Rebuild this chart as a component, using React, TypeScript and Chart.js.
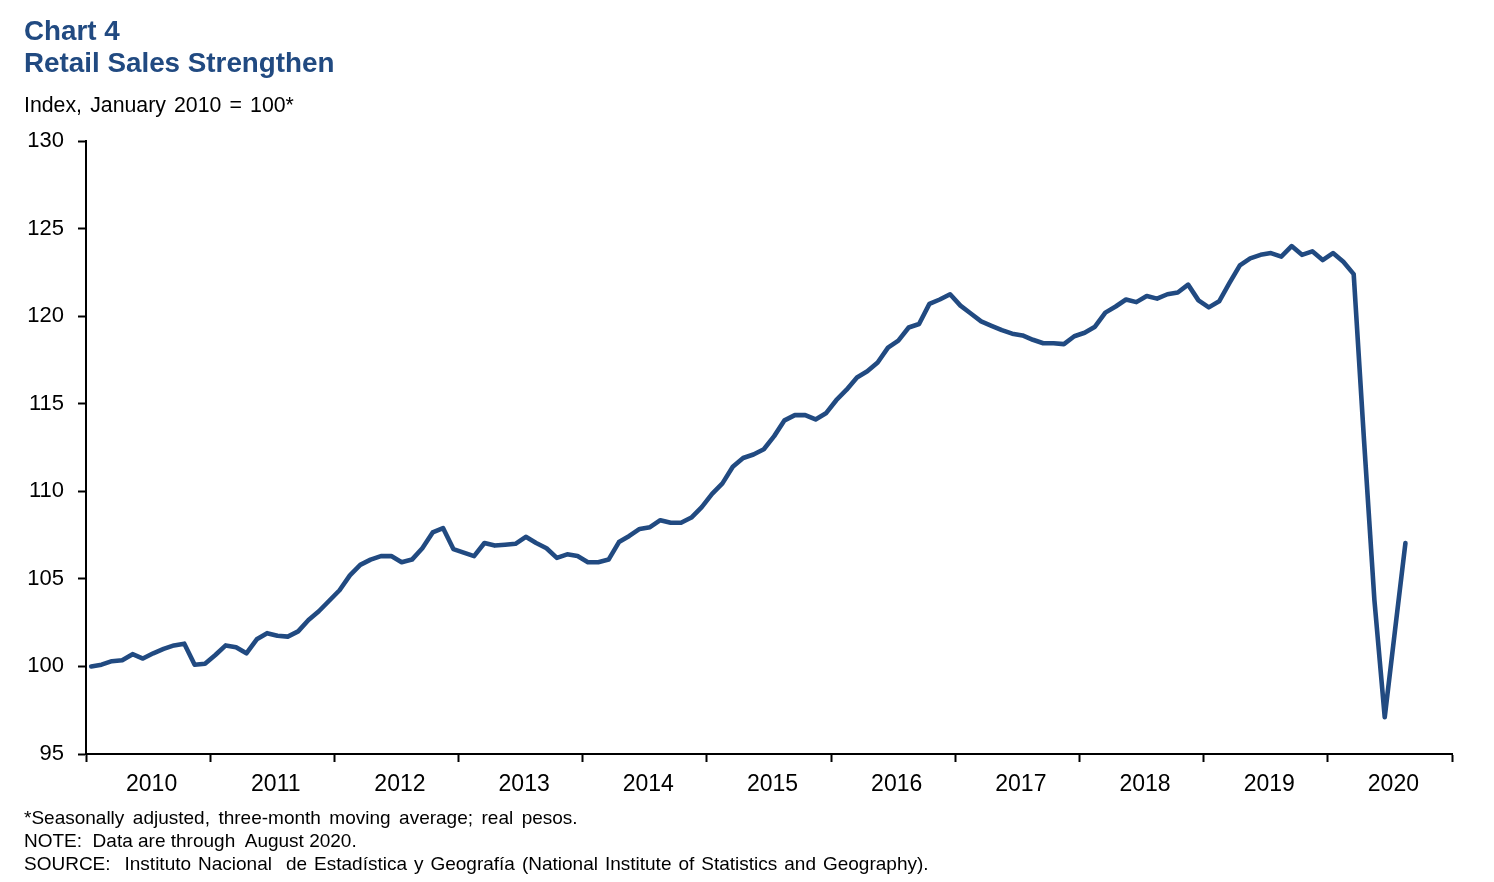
import React, { useEffect, useRef } from "react";
import { Chart, registerables } from "chart.js";

Chart.register(...registerables);

// Monthly index values, January 2010 – August 2020 (Jan 2010 = 100)
const retailIndex: number[] = [
  // 2010
  100.0, 100.1, 100.3, 100.35, 100.7, 100.45, 100.75, 101.0, 101.2, 101.3, 100.1, 100.15,
  // 2011
  100.65, 101.2, 101.1, 100.75, 101.55, 101.9, 101.75, 101.7, 102.0, 102.65, 103.15, 103.75,
  // 2012
  104.35, 105.2, 105.8, 106.1, 106.3, 106.3, 105.95, 106.1, 106.75, 107.65, 107.9, 106.7,
  // 2013
  106.5, 106.3, 107.05, 106.9, 106.95, 107.0, 107.4, 107.05, 106.75, 106.2, 106.4, 106.3,
  // 2014
  105.95, 105.95, 106.1, 107.1, 107.45, 107.85, 107.95, 108.35, 108.2, 108.2, 108.5, 109.1,
  // 2015
  109.85, 110.45, 111.4, 111.9, 112.1, 112.4, 113.15, 114.05, 114.35, 114.35, 114.1, 114.45,
  // 2016
  115.2, 115.8, 116.5, 116.85, 117.35, 118.2, 118.6, 119.35, 119.55, 120.7, 120.95, 121.25,
  // 2017
  120.6, 120.15, 119.7, 119.45, 119.2, 119.0, 118.9, 118.65, 118.45, 118.45, 118.4, 118.85,
  // 2018
  119.05, 119.4, 120.2, 120.55, 120.95, 120.8, 121.15, 121.0, 121.25, 121.35, 121.8, 120.9,
  // 2019
  120.5, 120.85, 121.9, 122.9, 123.3, 123.5, 123.6, 123.4, 124.0, 123.5, 123.7, 123.2,
  // 2020 (through August)
  123.6, 123.1, 122.4, 112.9, 103.8, 97.1, 102.1, 107.05,
];

const yearLabels: string[] = [
  "2010", "2011", "2012", "2013", "2014", "2015",
  "2016", "2017", "2018", "2019", "2020",
];

const yTicks: number[] = [95, 100, 105, 110, 115, 120, 125, 130];

const titleLine1 = "Chart 4";
const titleLine2 = "Retail Sales Strengthen";
const unitLabel = "Index, January 2010 = 100*";
const footnotes: string[] = [
  "*Seasonally adjusted, three-month moving average; real pesos.",
  "NOTE:  Data are through  August 2020.",
  "SOURCE:  Instituto Nacional  de Estadística y Geografía (National Institute of Statistics and Geography).",
];
const footnoteWordSpacing: number[] = [3.2, 0, 1.7];

const BLUE = "#214a81";
const FONT = "'Liberation Sans', Arial, Helvetica, sans-serif";

export default function App() {
  const canvasRef = useRef<HTMLCanvasElement | null>(null);

  useEffect(() => {
    const canvas = canvasRef.current;
    if (!canvas) return;
    const monthsPerYear = 12;
    const totalMonths = yearLabels.length * monthsPerYear;
    const points = retailIndex.map((v, i) => ({ x: i + 0.5, y: v }));

    const chart = new Chart(canvas, {
      type: "line",
      data: {
        datasets: [
          {
            data: points,
            borderColor: BLUE,
            borderWidth: 4.6,
            pointRadius: 0,
            tension: 0,
            borderJoinStyle: "round",
            borderCapStyle: "round",
            fill: false,
          },
        ],
      },
      options: {
        responsive: false,
        animation: false,
        layout: { padding: { top: 141, right: 42, bottom: 0, left: 0 } },
        plugins: {
          legend: { display: false },
          tooltip: { enabled: false },
        },
        scales: {
          x: {
            type: "linear",
            min: 0,
            max: totalMonths,
            afterBuildTicks: (scale: any) => {
              const t: any[] = [];
              for (let v = 0; v <= totalMonths; v += 6) t.push({ value: v });
              scale.ticks = t;
            },
            afterFit: (scale: any) => {
              scale.height = 882 - 754;
            },
            ticks: {
              autoSkip: false,
              maxRotation: 0,
              minRotation: 0,
              padding: 9,
              labelOffset: 3.5,
              color: "#000",
              font: { family: FONT, size: 23 },
              callback: (value: any) => {
                const v = Number(value);
                if (v % 12 === 6) return yearLabels[(v - 6) / 12] ?? "";
                return "";
              },
            },
            grid: {
              drawOnChartArea: false,
              drawTicks: true,
              tickLength: 8,
              tickWidth: 2,
              tickColor: (ctx: any) =>
                ctx.tick && ctx.tick.value % 12 === 0 ? "#000" : "rgba(0,0,0,0)",
            },
            border: { display: true, color: "#000", width: 2 },
          },
          y: {
            type: "linear",
            min: 95,
            max: 130,
            afterBuildTicks: (scale: any) => {
              scale.ticks = yTicks.map((v) => ({ value: v }));
            },
            afterFit: (scale: any) => {
              scale.width = 86;
            },
            ticks: {
              padding: 14,
              color: "#000",
              font: { family: FONT, size: 22 },
              callback: (value: any) => String(value),
            },
            grid: {
              drawOnChartArea: false,
              drawTicks: true,
              tickLength: 8,
              tickWidth: 2,
              tickColor: "#000",
            },
            border: { display: true, color: "#000", width: 2 },
          },
        },
      },
    } as any);

    return () => {
      chart.destroy();
    };
  }, []);

  const textBase: React.CSSProperties = {
    position: "absolute",
    left: 24,
    margin: 0,
    whiteSpace: "pre",
    fontFamily: FONT,
    lineHeight: 1,
  };

  return (
    <div
      style={{
        position: "absolute",
        left: 0,
        top: 0,
        width: 1494,
        height: 882,
        overflow: "hidden",
        background: "#fff",
      }}
    >
      <canvas
        ref={canvasRef}
        width={1494}
        height={882}
        style={{ position: "absolute", left: 0, top: 0, width: 1494, height: 882 }}
      />
      <div style={{ ...textBase, top: 17, fontSize: 27.8, fontWeight: 700, color: BLUE }}>
        {titleLine1}
      </div>
      <div style={{ ...textBase, top: 49, fontSize: 27.8, fontWeight: 700, color: BLUE }}>
        {titleLine2}
      </div>
      <div style={{ ...textBase, top: 95, fontSize: 21.3, wordSpacing: 2.2, color: "#000" }}>
        {unitLabel}
      </div>
      {footnotes.map((f, i) => (
        <div
          key={i}
          style={{
            ...textBase,
            top: 808 + i * 23,
            fontSize: 19,
            wordSpacing: footnoteWordSpacing[i],
            color: "#000",
          }}
        >
          {f}
        </div>
      ))}
    </div>
  );
}
